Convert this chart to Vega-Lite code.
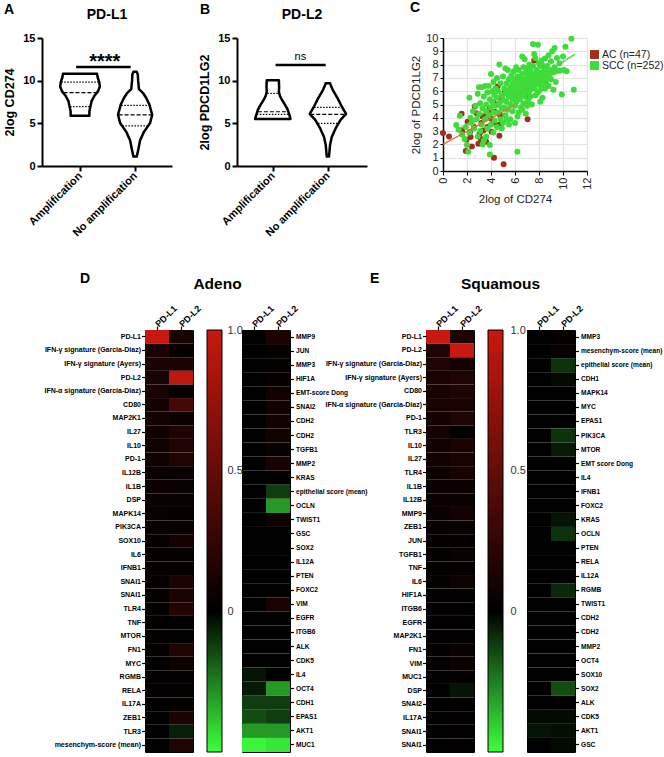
{
"$schema":"https://vega.github.io/schema/vega-lite/v6.json",
"autosize":{"type":"none"},
"padding":{"left":5,"top":38,"right":659,"bottom":719},
"background":"white",
"config":{"font":"Liberation Sans","view":{"stroke":null}},
"datasets":{
"gap":[{"t":""}],
"vA":[
{"g":"amp","y":5.9,"lo":0.83,"hi":1.17},{"g":"amp","y":6.4,"lo":0.83,"hi":1.17},{"g":"amp","y":7.0,"lo":0.81,"hi":1.19},{"g":"amp","y":7.6,"lo":0.79,"hi":1.21},{"g":"amp","y":8.2,"lo":0.74,"hi":1.26},{"g":"amp","y":8.8,"lo":0.67,"hi":1.33},{"g":"amp","y":9.3,"lo":0.64,"hi":1.36},{"g":"amp","y":9.8,"lo":0.65,"hi":1.35},{"g":"amp","y":10.4,"lo":0.68,"hi":1.32},{"g":"amp","y":10.8,"lo":0.69,"hi":1.31},
{"g":"no","y":1.1,"lo":1.97,"hi":2.03},{"g":"no","y":2.0,"lo":1.94,"hi":2.06},{"g":"no","y":3.0,"lo":1.91,"hi":2.09},{"g":"no","y":4.0,"lo":1.84,"hi":2.16},{"g":"no","y":5.0,"lo":1.73,"hi":2.27},{"g":"no","y":6.0,"lo":1.69,"hi":2.31},{"g":"no","y":7.2,"lo":1.74,"hi":2.26},{"g":"no","y":8.0,"lo":1.8,"hi":2.2},{"g":"no","y":8.5,"lo":1.85,"hi":2.15},{"g":"no","y":9.0,"lo":1.93,"hi":2.07},{"g":"no","y":10.0,"lo":1.945,"hi":2.055},{"g":"no","y":10.7,"lo":1.95,"hi":2.05},{"g":"no","y":11.05,"lo":1.97,"hi":2.03}],
"qA":[
{"k":"q","y":9.84,"lo":0.66,"hi":1.34},{"k":"m","y":8.59,"lo":0.7,"hi":1.3},{"k":"q","y":6.95,"lo":0.82,"hi":1.18},
{"k":"q","y":7.1,"lo":1.75,"hi":2.25},{"k":"m","y":6.0,"lo":1.7,"hi":2.3},{"k":"q","y":4.7,"lo":1.77,"hi":2.23}],
"vB":[
{"g":"amp","y":5.5,"lo":0.68,"hi":1.32},{"g":"amp","y":5.8,"lo":0.69,"hi":1.31},{"g":"amp","y":6.2,"lo":0.71,"hi":1.29},{"g":"amp","y":6.6,"lo":0.73,"hi":1.27},{"g":"amp","y":7.2,"lo":0.78,"hi":1.22},{"g":"amp","y":7.7,"lo":0.83,"hi":1.17},{"g":"amp","y":8.2,"lo":0.87,"hi":1.13},{"g":"amp","y":8.7,"lo":0.89,"hi":1.11},{"g":"amp","y":9.3,"lo":0.885,"hi":1.115},{"g":"amp","y":10.05,"lo":0.89,"hi":1.11},
{"g":"no","y":1.1,"lo":1.98,"hi":2.02},{"g":"no","y":2.5,"lo":1.96,"hi":2.04},{"g":"no","y":3.4,"lo":1.93,"hi":2.07},{"g":"no","y":4.4,"lo":1.86,"hi":2.14},{"g":"no","y":5.4,"lo":1.77,"hi":2.23},{"g":"no","y":6.1,"lo":1.67,"hi":2.33},{"g":"no","y":7.0,"lo":1.75,"hi":2.25},{"g":"no","y":7.9,"lo":1.82,"hi":2.18},{"g":"no","y":8.9,"lo":1.91,"hi":2.09},{"g":"no","y":9.5,"lo":1.95,"hi":2.05},{"g":"no","y":9.7,"lo":1.96,"hi":2.04}],
"qB":[
{"k":"q","y":8.5,"lo":0.9,"hi":1.1},{"k":"m","y":6.36,"lo":0.73,"hi":1.27},{"k":"q","y":6.06,"lo":0.71,"hi":1.29},
{"k":"q","y":6.87,"lo":1.75,"hi":2.25},{"k":"m","y":6.05,"lo":1.68,"hi":2.32},{"k":"q","y":5.0,"lo":1.82,"hi":2.18}],
"ac":[{"x":0,"y":2.85},{"x":0.5,"y":2.6},{"x":1.55,"y":4.3},{"x":1.9,"y":1.5},{"x":1.95,"y":2.35},{"x":2.05,"y":3.7},{"x":2.25,"y":2.95},{"x":2.3,"y":2.55},{"x":2.4,"y":1.85},{"x":2.65,"y":4.85},{"x":2.8,"y":4.35},{"x":2.95,"y":2.05},{"x":3.05,"y":2.8},{"x":3.15,"y":2.4},{"x":3.2,"y":3.6},{"x":3.35,"y":3.05},{"x":3.5,"y":4.2},{"x":3.6,"y":2.2},{"x":3.7,"y":3.3},{"x":3.8,"y":4.45},{"x":3.85,"y":4.1},{"x":3.9,"y":4.7},{"x":4.0,"y":3.95},{"x":4.05,"y":2.95},{"x":4.15,"y":5.2},{"x":4.25,"y":1.0},{"x":4.3,"y":4.45},{"x":4.4,"y":6.2},{"x":4.55,"y":6.35},{"x":4.5,"y":5.0},{"x":4.65,"y":3.45},{"x":4.7,"y":2.65},{"x":4.75,"y":4.2},{"x":4.9,"y":5.45},{"x":5.05,"y":0.5},{"x":5.15,"y":5.95},{"x":5.45,"y":5.85},{"x":5.6,"y":5.7},{"x":6.0,"y":5.7},{"x":6.9,"y":5.6},{"x":7.05,"y":3.9},{"x":7.6,"y":8.3},{"x":3.3,"y":4.1},{"x":4.2,"y":3.6},{"x":2.6,"y":3.3},{"x":1.6,"y":3.0},{"x":4.8,"y":3.5}],
"scc":[{"x":1.1,"y":3.45},{"x":1.4,"y":4.15},{"x":1.6,"y":2.75},{"x":1.3,"y":3.1},{"x":1.9,"y":3.3},{"x":2.0,"y":1.95},{"x":2.1,"y":1.45},{"x":1.8,"y":2.4},{"x":2.2,"y":5.5},{"x":2.3,"y":4.0},{"x":2.4,"y":3.6},{"x":2.5,"y":4.5},{"x":2.2,"y":2.9},
{"x":2.6,"y":3.2},{"x":2.7,"y":4.9},{"x":2.8,"y":3.9},{"x":2.9,"y":2.6},{"x":3.0,"y":4.3},{"x":3.0,"y":6.3},{"x":3.1,"y":5.1},{"x":3.2,"y":3.5},{"x":3.2,"y":6.3},{"x":3.3,"y":4.7},{"x":3.4,"y":5.6},{"x":3.4,"y":2.3},{"x":3.5,"y":6.4},{"x":3.5,"y":3.9},{"x":2.9,"y":5.8},{"x":3.1,"y":3.0},{"x":3.3,"y":2.0},
{"x":3.6,"y":4.5},{"x":3.6,"y":5.0},{"x":3.7,"y":5.9},{"x":3.7,"y":3.2},{"x":3.8,"y":6.4},{"x":3.8,"y":4.2},{"x":3.9,"y":1.25},{"x":3.9,"y":1.95},{"x":3.9,"y":5.4},{"x":4.0,"y":4.8},{"x":4.0,"y":7.3},{"x":4.0,"y":3.5},{"x":4.1,"y":6.0},{"x":4.1,"y":5.2},{"x":4.2,"y":4.4},{"x":4.2,"y":6.7},{"x":4.3,"y":3.8},{"x":4.3,"y":5.7},{"x":4.4,"y":6.2},{"x":4.4,"y":4.9},{"x":4.5,"y":3.3},{"x":4.5,"y":7.0},{"x":4.5,"y":5.5},{"x":3.6,"y":2.6},{"x":4.2,"y":2.9},
{"x":4.6,"y":4.4},{"x":4.6,"y":6.0},{"x":4.7,"y":5.1},{"x":4.7,"y":8.0},{"x":4.8,"y":3.9},{"x":4.8,"y":6.6},{"x":4.9,"y":5.7},{"x":4.9,"y":4.7},{"x":5.0,"y":7.1},{"x":5.0,"y":5.3},{"x":5.0,"y":3.6},{"x":5.1,"y":6.2},{"x":5.1,"y":4.8},{"x":5.2,"y":7.7},{"x":5.2,"y":5.8},{"x":5.2,"y":4.2},{"x":5.3,"y":6.6},{"x":5.3,"y":5.2},{"x":5.4,"y":7.6},{"x":5.4,"y":6.0},{"x":5.4,"y":4.6},{"x":5.5,"y":5.6},{"x":5.5,"y":6.9},{"x":5.5,"y":3.5},{"x":4.9,"y":3.2},{"x":5.3,"y":3.9},
{"x":5.6,"y":6.3},{"x":5.6,"y":5.0},{"x":5.7,"y":7.2},{"x":5.7,"y":5.9},{"x":5.8,"y":6.6},{"x":5.8,"y":4.5},{"x":5.8,"y":5.4},{"x":5.9,"y":7.5},{"x":5.9,"y":6.1},{"x":6.0,"y":6.9},{"x":6.0,"y":5.6},{"x":6.0,"y":4.9},{"x":6.1,"y":7.8},{"x":6.1,"y":6.4},{"x":6.1,"y":5.2},{"x":6.2,"y":1.45},{"x":6.2,"y":7.1},{"x":6.2,"y":5.9},{"x":6.3,"y":6.6},{"x":6.3,"y":4.4},{"x":6.3,"y":7.6},{"x":6.4,"y":6.2},{"x":6.4,"y":5.4},{"x":6.4,"y":7.0},{"x":6.5,"y":6.8},{"x":6.5,"y":5.7},{"x":6.5,"y":4.8},{"x":5.6,"y":3.9},{"x":6.0,"y":3.6},{"x":6.2,"y":4.1},
{"x":6.6,"y":7.3},{"x":6.6,"y":6.0},{"x":6.6,"y":8.6},{"x":6.7,"y":6.5},{"x":6.7,"y":5.1},{"x":6.7,"y":7.8},{"x":6.8,"y":8.4},{"x":6.8,"y":6.9},{"x":6.8,"y":5.6},{"x":6.9,"y":7.4},{"x":6.9,"y":6.2},{"x":6.9,"y":4.3},{"x":7.0,"y":7.0},{"x":7.0,"y":5.9},{"x":7.0,"y":6.6},{"x":7.1,"y":7.7},{"x":7.1,"y":5.3},{"x":7.1,"y":6.3},{"x":7.2,"y":7.2},{"x":7.2,"y":6.0},{"x":7.2,"y":8.0},{"x":7.3,"y":6.8},{"x":7.3,"y":5.6},{"x":7.3,"y":7.5},{"x":7.4,"y":6.4},{"x":7.4,"y":7.0},{"x":7.4,"y":5.0},{"x":7.5,"y":9.55},{"x":7.5,"y":6.7},{"x":7.5,"y":7.9},{"x":6.6,"y":4.6},{"x":7.0,"y":4.9},
{"x":7.6,"y":6.2},{"x":7.6,"y":7.3},{"x":7.7,"y":5.7},{"x":7.7,"y":6.9},{"x":7.7,"y":8.5},{"x":7.8,"y":7.6},{"x":7.8,"y":6.5},{"x":7.9,"y":9.5},{"x":7.9,"y":7.1},{"x":7.9,"y":5.9},{"x":8.0,"y":8.1},{"x":8.0,"y":6.7},{"x":8.0,"y":7.4},{"x":8.1,"y":6.1},{"x":8.1,"y":7.9},{"x":8.2,"y":7.0},{"x":8.2,"y":6.4},{"x":8.2,"y":8.3},{"x":8.3,"y":7.95},{"x":8.3,"y":7.3},{"x":8.3,"y":5.5},{"x":8.4,"y":6.8},{"x":8.4,"y":7.6},{"x":8.5,"y":8.45},{"x":8.5,"y":7.1},{"x":8.5,"y":6.2},{"x":7.6,"y":8.8},{"x":8.1,"y":5.2},
{"x":8.6,"y":7.5},{"x":8.6,"y":6.6},{"x":8.7,"y":7.9},{"x":8.7,"y":7.0},{"x":8.8,"y":8.7},{"x":8.8,"y":6.4},{"x":8.9,"y":7.3},{"x":9.0,"y":8.25},{"x":9.0,"y":7.6},{"x":9.0,"y":6.9},{"x":9.1,"y":9.0},{"x":9.2,"y":7.4},{"x":9.3,"y":9.25},{"x":9.3,"y":7.8},{"x":9.4,"y":6.7},{"x":9.5,"y":7.5},{"x":9.5,"y":8.5},{"x":9.2,"y":6.1},
{"x":9.75,"y":7.55},{"x":9.9,"y":5.75},{"x":10.0,"y":8.6},{"x":10.1,"y":7.6},{"x":10.2,"y":9.35},{"x":10.3,"y":7.5},{"x":10.7,"y":9.95},{"x":10.9,"y":6.1},{"x":9.7,"y":8.1}],
"adL":[
{"g":"PD-L1","PD-L1":1.0,"PD-L2":0.12},
{"g":"IFN-γ signature (Garcia-Diaz)","PD-L1":0.13,"PD-L2":0.03},
{"g":"IFN-γ signature (Ayers)","PD-L1":0.13,"PD-L2":0.14},
{"g":"PD-L2","PD-L1":0.12,"PD-L2":0.95},
{"g":"IFN-α signature (Garcia-Diaz)","PD-L1":0.11,"PD-L2":0.03},
{"g":"CD80","PD-L1":0.1,"PD-L2":0.35},
{"g":"MAP2K1","PD-L1":0.09,"PD-L2":0.05},
{"g":"IL27","PD-L1":0.08,"PD-L2":0.15},
{"g":"IL10","PD-L1":0.08,"PD-L2":0.15},
{"g":"PD-1","PD-L1":0.07,"PD-L2":0.16},
{"g":"IL12B","PD-L1":0.06,"PD-L2":0.04},
{"g":"IL1B","PD-L1":0.06,"PD-L2":0.04},
{"g":"DSP","PD-L1":0.05,"PD-L2":0.04},
{"g":"MAPK14","PD-L1":0.04,"PD-L2":0.03},
{"g":"PIK3CA","PD-L1":0.04,"PD-L2":0.03},
{"g":"SOX10","PD-L1":0.03,"PD-L2":0.1},
{"g":"IL6","PD-L1":0.03,"PD-L2":0.03},
{"g":"IFNB1","PD-L1":0.03,"PD-L2":0.02},
{"g":"SNAI1","PD-L1":0.03,"PD-L2":0.13},
{"g":"SNAI1 ","PD-L1":0.03,"PD-L2":0.14},
{"g":"TLR4","PD-L1":0.02,"PD-L2":0.18},
{"g":"TNF","PD-L1":0.02,"PD-L2":0.01},
{"g":"MTOR","PD-L1":0.02,"PD-L2":0.0},
{"g":"FN1","PD-L1":0.02,"PD-L2":0.15},
{"g":"MYC","PD-L1":0.01,"PD-L2":0.07},
{"g":"RGMB","PD-L1":0.01,"PD-L2":0.01},
{"g":"RELA","PD-L1":0.01,"PD-L2":0.02},
{"g":"IL17A","PD-L1":0.01,"PD-L2":0.02},
{"g":"ZEB1","PD-L1":0.0,"PD-L2":0.13},
{"g":"TLR3","PD-L1":0.0,"PD-L2":-0.06},
{"g":"mesenchym-score (mean)","PD-L1":0.0,"PD-L2":0.15}],
"adR":[
{"g":"MMP9","PD-L1":0.0,"PD-L2":0.14},
{"g":"JUN","PD-L1":0.0,"PD-L2":0.02},
{"g":"MMP3","PD-L1":0.0,"PD-L2":0.02},
{"g":"HIF1A","PD-L1":0.0,"PD-L2":0.03},
{"g":"EMT-score Dong","PD-L1":0.0,"PD-L2":0.09},
{"g":"SNAI2","PD-L1":0.0,"PD-L2":0.09},
{"g":"CDH2","PD-L1":0.0,"PD-L2":0.09},
{"g":"CDH2 ","PD-L1":0.0,"PD-L2":0.09},
{"g":"TGFB1","PD-L1":0.0,"PD-L2":0.03},
{"g":"MMP2","PD-L1":0.0,"PD-L2":0.12},
{"g":"KRAS","PD-L1":0.0,"PD-L2":0.01},
{"g":"epithelial score (mean)","PD-L1":0.0,"PD-L2":-0.12},
{"g":"OCLN","PD-L1":0.0,"PD-L2":-0.3},
{"g":"TWIST1","PD-L1":0.0,"PD-L2":0.07},
{"g":"GSC","PD-L1":0.0,"PD-L2":0.0},
{"g":"SOX2","PD-L1":0.0,"PD-L2":0.0},
{"g":"IL12A","PD-L1":0.0,"PD-L2":0.0},
{"g":"PTEN","PD-L1":0.0,"PD-L2":0.0},
{"g":"FOXC2","PD-L1":0.0,"PD-L2":0.0},
{"g":"VIM","PD-L1":0.0,"PD-L2":0.12},
{"g":"EGFR","PD-L1":0.0,"PD-L2":0.0},
{"g":"ITGB6","PD-L1":0.0,"PD-L2":0.0},
{"g":"ALK","PD-L1":0.0,"PD-L2":0.0},
{"g":"CDK5","PD-L1":0.0,"PD-L2":0.0},
{"g":"IL4","PD-L1":-0.04,"PD-L2":0.0},
{"g":"OCT4","PD-L1":-0.05,"PD-L2":-0.3},
{"g":"CDH1","PD-L1":-0.12,"PD-L2":-0.12},
{"g":"EPAS1","PD-L1":-0.15,"PD-L2":-0.12},
{"g":"AKT1","PD-L1":-0.3,"PD-L2":-0.3},
{"g":"MUC1","PD-L1":-0.48,"PD-L2":-0.45}],
"sqL":[
{"g":"PD-L1","PD-L1":1.0,"PD-L2":0.15},
{"g":"PD-L2","PD-L1":0.15,"PD-L2":1.0},
{"g":"IFN-γ signature (Garcia-Diaz)","PD-L1":0.15,"PD-L2":0.1},
{"g":"IFN-γ signature (Ayers)","PD-L1":0.12,"PD-L2":0.15},
{"g":"CD80","PD-L1":0.12,"PD-L2":0.15},
{"g":"IFN-α signature (Garcia-Diaz)","PD-L1":0.12,"PD-L2":0.12},
{"g":"PD-1","PD-L1":0.1,"PD-L2":0.15},
{"g":"TLR3","PD-L1":0.1,"PD-L2":0.0},
{"g":"IL10","PD-L1":0.09,"PD-L2":0.14},
{"g":"IL27","PD-L1":0.08,"PD-L2":0.12},
{"g":"TLR4","PD-L1":0.07,"PD-L2":0.12},
{"g":"IL1B","PD-L1":0.06,"PD-L2":0.05},
{"g":"IL12B","PD-L1":0.05,"PD-L2":0.05},
{"g":"MMP9","PD-L1":0.04,"PD-L2":0.1},
{"g":"ZEB1","PD-L1":0.03,"PD-L2":0.04},
{"g":"JUN","PD-L1":0.03,"PD-L2":0.02},
{"g":"TGFB1","PD-L1":0.02,"PD-L2":0.05},
{"g":"TNF","PD-L1":0.02,"PD-L2":0.03},
{"g":"IL6","PD-L1":0.02,"PD-L2":0.07},
{"g":"HIF1A","PD-L1":0.01,"PD-L2":0.01},
{"g":"ITGB6","PD-L1":0.01,"PD-L2":0.01},
{"g":"EGFR","PD-L1":0.01,"PD-L2":0.01},
{"g":"MAP2K1","PD-L1":0.01,"PD-L2":0.01},
{"g":"FN1","PD-L1":0.01,"PD-L2":0.06},
{"g":"VIM","PD-L1":0.01,"PD-L2":0.07},
{"g":"MUC1","PD-L1":0.0,"PD-L2":0.01},
{"g":"DSP","PD-L1":0.0,"PD-L2":-0.04},
{"g":"SNAI2","PD-L1":0.0,"PD-L2":0.01},
{"g":"IL17A","PD-L1":0.0,"PD-L2":0.01},
{"g":"SNAI1","PD-L1":0.0,"PD-L2":0.01},
{"g":"SNAI1 ","PD-L1":0.0,"PD-L2":0.01}],
"sqR":[
{"g":"MMP3","PD-L1":0.0,"PD-L2":0.02},
{"g":"mesenchym-score (mean)","PD-L1":0.0,"PD-L2":0.04},
{"g":"epithelial score (mean)","PD-L1":0.0,"PD-L2":-0.1},
{"g":"CDH1","PD-L1":0.0,"PD-L2":-0.02},
{"g":"MAPK14","PD-L1":0.0,"PD-L2":0.0},
{"g":"MYC","PD-L1":0.0,"PD-L2":0.0},
{"g":"EPAS1","PD-L1":0.0,"PD-L2":0.0},
{"g":"PIK3CA","PD-L1":0.0,"PD-L2":-0.1},
{"g":"MTOR","PD-L1":0.0,"PD-L2":-0.05},
{"g":"EMT score Dong","PD-L1":0.0,"PD-L2":0.0},
{"g":"IL4","PD-L1":0.0,"PD-L2":0.0},
{"g":"IFNB1","PD-L1":0.0,"PD-L2":0.0},
{"g":"FOXC2","PD-L1":0.0,"PD-L2":0.0},
{"g":"KRAS","PD-L1":0.0,"PD-L2":-0.04},
{"g":"OCLN","PD-L1":0.0,"PD-L2":-0.1},
{"g":"PTEN","PD-L1":0.0,"PD-L2":0.0},
{"g":"RELA","PD-L1":0.0,"PD-L2":0.0},
{"g":"IL12A","PD-L1":0.0,"PD-L2":0.0},
{"g":"RGMB","PD-L1":0.0,"PD-L2":-0.08},
{"g":"TWIST1","PD-L1":0.0,"PD-L2":0.0},
{"g":"CDH2","PD-L1":0.0,"PD-L2":0.0},
{"g":"CDH2 ","PD-L1":0.0,"PD-L2":0.0},
{"g":"MMP2","PD-L1":0.0,"PD-L2":0.0},
{"g":"OCT4","PD-L1":0.0,"PD-L2":0.0},
{"g":"SOX10","PD-L1":0.0,"PD-L2":0.0},
{"g":"SOX2","PD-L1":0.0,"PD-L2":-0.15},
{"g":"ALK","PD-L1":0.0,"PD-L2":0.0},
{"g":"CDK5","PD-L1":-0.02,"PD-L2":-0.02},
{"g":"AKT1","PD-L1":-0.04,"PD-L2":-0.03},
{"g":"GSC","PD-L1":0.0,"PD-L2":-0.02}]
},
"spacing":32,
"vconcat":[
{"bounds":"flush","spacing":0,"hconcat":[
{"width":37,"height":1,"title":{"text":"A","anchor":"start","frame":"group","fontSize":14,"fontWeight":"bold","offset":16,"dx":-1},"data":{"name":"gap"},"mark":"text","encoding":{"text":{"field":"t"}}},
{"width":130,"height":128,"title":{"text":"PD-L1","fontSize":14,"fontWeight":"bold","frame":"group","anchor":"middle","offset":10},
 "layer":[
  {"data":{"name":"vA"},"mark":{"type":"area","orient":"horizontal","fill":"white","stroke":"black","strokeWidth":2.5,"strokeJoin":"round"},
   "encoding":{"y":{"field":"y","type":"quantitative","scale":{"domain":[0,15],"nice":false},"axis":{"values":[0,5,10,15],"title":"2log CD274","titleFontSize":12.5,"titleFontWeight":"bold","titleColor":"black","titlePadding":6,"labelFontSize":11,"labelFontWeight":"bold","labelColor":"black","tickSize":5,"tickWidth":2,"tickColor":"black","domainWidth":2,"domainColor":"black","grid":false}},
    "x":{"field":"lo","type":"quantitative","scale":{"domain":[0.31,2.67],"nice":false,"zero":false},"axis":{"values":[1,2],"labelExpr":"datum.value==1?'Amplification':'No amplification'","labelAngle":-45,"labelAlign":"right","labelBaseline":"middle","title":null,"labelFontSize":11,"labelFontWeight":"bold","labelColor":"black","tickSize":5,"tickWidth":2,"tickColor":"black","domainWidth":2,"domainColor":"black","grid":false,"labelPadding":3}},
    "x2":{"field":"hi"},"detail":{"field":"g"}}},
  {"data":{"name":"qA"},"mark":{"type":"rule","strokeWidth":1.2,"color":"black"},"encoding":{"y":{"field":"y","type":"quantitative"},"x":{"field":"lo","type":"quantitative"},"x2":{"field":"hi"},"strokeDash":{"field":"k","type":"nominal","scale":{"domain":["m","q"],"range":[[4,2],[1.5,1.5]]},"legend":null}}},
  {"data":{"values":[{"x":0.93,"x2":1.92,"y":11.6}]},"mark":{"type":"rule","strokeWidth":2.5,"color":"black"},"encoding":{"y":{"field":"y","type":"quantitative"},"x":{"field":"x","type":"quantitative"},"x2":{"field":"x2"}}},
  {"data":{"values":[{"x":1.45,"y":11.5,"t":"****"}]},"mark":{"type":"text","fontSize":20,"fontWeight":"bold","baseline":"alphabetic","color":"black"},"encoding":{"y":{"field":"y","type":"quantitative"},"x":{"field":"x","type":"quantitative"},"text":{"field":"t"}}}
 ]},
{"width":65,"height":1,"title":{"text":"B","anchor":"start","frame":"group","fontSize":14,"fontWeight":"bold","offset":16,"dx":28},"data":{"name":"gap"},"mark":"text","encoding":{"text":{"field":"t"}}},
{"width":130,"height":128,"title":{"text":"PD-L2","fontSize":14,"fontWeight":"bold","frame":"group","anchor":"middle","offset":10},
 "layer":[
  {"data":{"name":"vB"},"mark":{"type":"area","orient":"horizontal","fill":"white","stroke":"black","strokeWidth":2.5,"strokeJoin":"round"},
   "encoding":{"y":{"field":"y","type":"quantitative","scale":{"domain":[0,15],"nice":false},"axis":{"values":[0,5,10,15],"title":"2log PDCD1LG2","titleFontSize":12.5,"titleFontWeight":"bold","titleColor":"black","titlePadding":6,"labelFontSize":11,"labelFontWeight":"bold","labelColor":"black","tickSize":5,"tickWidth":2,"tickColor":"black","domainWidth":2,"domainColor":"black","grid":false}},
    "x":{"field":"lo","type":"quantitative","scale":{"domain":[0.35,2.71],"nice":false,"zero":false},"axis":{"values":[1,2],"labelExpr":"datum.value==1?'Amplification':'No amplification'","labelAngle":-45,"labelAlign":"right","labelBaseline":"middle","title":null,"labelFontSize":11,"labelFontWeight":"bold","labelColor":"black","tickSize":5,"tickWidth":2,"tickColor":"black","domainWidth":2,"domainColor":"black","grid":false,"labelPadding":3}},
    "x2":{"field":"hi"},"detail":{"field":"g"}}},
  {"data":{"name":"qB"},"mark":{"type":"rule","strokeWidth":1.2,"color":"black"},"encoding":{"y":{"field":"y","type":"quantitative"},"x":{"field":"lo","type":"quantitative"},"x2":{"field":"hi"},"strokeDash":{"field":"k","type":"nominal","scale":{"domain":["m","q"],"range":[[4,2],[1.5,1.5]]},"legend":null}}},
  {"data":{"values":[{"x":1.05,"x2":1.96,"y":11.83}]},"mark":{"type":"rule","strokeWidth":2.5,"color":"black"},"encoding":{"y":{"field":"y","type":"quantitative"},"x":{"field":"x","type":"quantitative"},"x2":{"field":"x2"}}},
  {"data":{"values":[{"x":1.5,"y":12.45,"t":"ns"}]},"mark":{"type":"text","fontSize":11,"baseline":"alphabetic","color":"black"},"encoding":{"y":{"field":"y","type":"quantitative"},"x":{"field":"x","type":"quantitative"},"text":{"field":"t"}}}
 ]},
{"width":76,"height":1,"title":{"text":"C","anchor":"start","frame":"group","fontSize":14,"fontWeight":"bold","offset":18,"dx":43},"data":{"name":"gap"},"mark":"text","encoding":{"text":{"field":"t"}}},
{"width":144,"height":133,
 "encoding":{
  "x":{"field":"x","type":"quantitative","scale":{"domain":[0,12],"nice":false},"axis":{"values":[0,2,4,6,8,10,12],"tickCount":7,"labelOverlap":false,"labelAngle":-90,"labelAlign":"right","labelBaseline":"middle","title":"2log of CD274","titleFontSize":11.5,"titleFontWeight":"normal","titleColor":"#222","titlePadding":4,"labelFontSize":11,"labelColor":"#222","grid":true,"gridColor":"#e2e2e2","tickSize":4,"tickColor":"black","domainColor":"black","domainWidth":1.5}},
  "y":{"field":"y","type":"quantitative","scale":{"domain":[0,10],"nice":false},"axis":{"values":[0,1,2,3,4,5,6,7,8,9,10],"tickCount":11,"labelOverlap":false,"title":"2log of PDCD1LG2","titleFontSize":11.5,"titleFontWeight":"normal","titleColor":"#222","titlePadding":4,"labelFontSize":11,"labelColor":"#222","labelPadding":2,"grid":true,"gridColor":"#e2e2e2","tickSize":3,"tickColor":"black","domainColor":"black","domainWidth":1.5}}},
 "layer":[
  {"data":{"name":"ac"},"mark":{"type":"circle","size":36,"opacity":1},"encoding":{
   "color":{"datum":"AC (n=47)","type":"nominal","scale":{"domain":["AC (n=47)","SCC (n=252)"],"range":["#a52d1c","#3ddc3a"]},"legend":{"orient":"none","legendX":584,"legendY":11,"title":null,"symbolType":"square","symbolSize":80,"labelFontSize":10.5,"labelColor":"#222","rowPadding":0,"labelOffset":2}}}},
  {"data":{"name":"scc"},"mark":{"type":"circle","size":36,"opacity":1},"encoding":{"color":{"datum":"SCC (n=252)","type":"nominal"}}},
  {"data":{"values":[{"x":0,"y":2.0,"x2":6.0,"y2":4.94}]},"mark":{"type":"rule","color":"#e0703f","strokeWidth":1.3},"encoding":{"x2":{"field":"x2"},"y2":{"field":"y2"}}},
  {"data":{"values":[{"x":1.08,"y":3.0,"x2":11.0,"y2":8.79}]},"mark":{"type":"rule","color":"#4fd24a","strokeWidth":1.3},"encoding":{"x2":{"field":"x2"},"y2":{"field":"y2"}}}
 ]}
]},
{"bounds":"flush","spacing":0,"hconcat":[
{"width":140,"height":1,"title":{"text":"D","anchor":"start","frame":"group","fontSize":14,"fontWeight":"bold","offset":39,"dx":75},"data":{"name":"gap"},"mark":"text","encoding":{"text":{"field":"t"}}},
{"width":48,"height":422,"view":{"stroke":"black","strokeWidth":1},"data":{"name":"adL"},"transform":[{"fold":["PD-L1","PD-L2"],"as":["col","v"]}],"mark":"rect",
 "encoding":{"x":{"field":"col","type":"nominal","sort":["PD-L1","PD-L2"],"scale":{"paddingInner":0,"paddingOuter":0},"axis":{"orient":"top","title":null,"labelAngle":-45,"labelAlign":"left","labelBaseline":"middle","labelFontSize":9,"labelFontWeight":"bold","labelColor":"black","tickSize":4,"tickWidth":1.2,"tickColor":"black","domain":false,"labelPadding":1}},
  "y":{"field":"g","type":"nominal","sort":null,"scale":{"paddingInner":0,"paddingOuter":0},"axis":{"title":null,"labelExpr":"trim(datum.label)","labelFontSize":7,"labelFontWeight":"bold","labelColor":"black","tickSize":3.5,"tickWidth":1.2,"tickColor":"black","domain":false,"labelPadding":1}},
  "color":{"field":"v","type":"quantitative","scale":{"domain":[-0.5,0,1],"range":["#3dff3d","#000000","#c8180f"],"interpolate":"rgb"},"legend":null}}},
{"width":14,"height":1,"data":{"name":"gap"},"mark":"text","encoding":{"text":{"field":"t"}}},
{"width":15,"height":422,"title":{"text":"Adeno","fontSize":15.5,"fontWeight":"bold","frame":"group","anchor":"middle","offset":32,"dx":3},"data":{"values":[{"lo":-0.5,"hi":1}]},"mark":{"type":"rect","fill":{"gradient":"linear","x1":0,"y1":1,"x2":0,"y2":0,"stops":[{"offset":0,"color":"#3dff3d"},{"offset":0.3333,"color":"#000000"},{"offset":1,"color":"#c8180f"}]},"stroke":"black","strokeWidth":1},
 "encoding":{"y":{"field":"lo","type":"quantitative","scale":{"domain":[-0.5,1],"nice":false,"zero":false},"axis":{"orient":"right","values":[0,0.5,1],"labelExpr":"datum.value==0?'0':format(datum.value,'.1f')","ticks":false,"domain":false,"grid":false,"title":null,"labelFontSize":11,"labelColor":"#333","labelPadding":5}},"y2":{"field":"hi"}}},
{"width":20,"height":1,"data":{"name":"gap"},"mark":"text","encoding":{"text":{"field":"t"}}},
{"width":48,"height":422,"view":{"stroke":"black","strokeWidth":1},"data":{"name":"adR"},"transform":[{"fold":["PD-L1","PD-L2"],"as":["col","v"]}],"mark":"rect",
 "encoding":{"x":{"field":"col","type":"nominal","sort":["PD-L1","PD-L2"],"scale":{"paddingInner":0,"paddingOuter":0},"axis":{"orient":"top","title":null,"labelAngle":-45,"labelAlign":"left","labelBaseline":"middle","labelFontSize":9,"labelFontWeight":"bold","labelColor":"black","tickSize":4,"tickWidth":1.2,"tickColor":"black","domain":false,"labelPadding":1}},
  "y":{"field":"g","type":"nominal","sort":null,"scale":{"paddingInner":0,"paddingOuter":0},"axis":{"orient":"right","title":null,"labelExpr":"trim(datum.label)","labelFontSize":6.6,"labelFontWeight":"bold","labelColor":"black","tickSize":3.5,"tickWidth":1.2,"tickColor":"black","domain":false,"labelPadding":2}},
  "color":{"field":"v","type":"quantitative","scale":{"domain":[-0.5,0,1],"range":["#3dff3d","#000000","#c8180f"],"interpolate":"rgb"},"legend":null}}},
{"width":136,"height":1,"title":{"text":"E","anchor":"start","frame":"group","fontSize":14,"fontWeight":"bold","offset":39,"dx":80},"data":{"name":"gap"},"mark":"text","encoding":{"text":{"field":"t"}}},
{"width":48,"height":422,"view":{"stroke":"black","strokeWidth":1},"data":{"name":"sqL"},"transform":[{"fold":["PD-L1","PD-L2"],"as":["col","v"]}],"mark":"rect",
 "encoding":{"x":{"field":"col","type":"nominal","sort":["PD-L1","PD-L2"],"scale":{"paddingInner":0,"paddingOuter":0},"axis":{"orient":"top","title":null,"labelAngle":-45,"labelAlign":"left","labelBaseline":"middle","labelFontSize":9,"labelFontWeight":"bold","labelColor":"black","tickSize":4,"tickWidth":1.2,"tickColor":"black","domain":false,"labelPadding":1}},
  "y":{"field":"g","type":"nominal","sort":null,"scale":{"paddingInner":0,"paddingOuter":0},"axis":{"title":null,"labelExpr":"trim(datum.label)","labelFontSize":7,"labelFontWeight":"bold","labelColor":"black","tickSize":3.5,"tickWidth":1.2,"tickColor":"black","domain":false,"labelPadding":1}},
  "color":{"field":"v","type":"quantitative","scale":{"domain":[-0.5,0,1],"range":["#3dff3d","#000000","#c8180f"],"interpolate":"rgb"},"legend":null}}},
{"width":14,"height":1,"data":{"name":"gap"},"mark":"text","encoding":{"text":{"field":"t"}}},
{"width":15,"height":422,"title":{"text":"Squamous","fontSize":15.5,"fontWeight":"bold","frame":"group","anchor":"middle","offset":32,"dx":5},"data":{"values":[{"lo":-0.5,"hi":1}]},"mark":{"type":"rect","fill":{"gradient":"linear","x1":0,"y1":1,"x2":0,"y2":0,"stops":[{"offset":0,"color":"#3dff3d"},{"offset":0.3333,"color":"#000000"},{"offset":1,"color":"#c8180f"}]},"stroke":"black","strokeWidth":1},
 "encoding":{"y":{"field":"lo","type":"quantitative","scale":{"domain":[-0.5,1],"nice":false,"zero":false},"axis":{"orient":"right","values":[0,0.5,1],"labelExpr":"datum.value==0?'0':format(datum.value,'.1f')","ticks":false,"domain":false,"grid":false,"title":null,"labelFontSize":11,"labelColor":"#333","labelPadding":7}},"y2":{"field":"hi"}}},
{"width":24,"height":1,"data":{"name":"gap"},"mark":"text","encoding":{"text":{"field":"t"}}},
{"width":48,"height":422,"view":{"stroke":"black","strokeWidth":1},"data":{"name":"sqR"},"transform":[{"fold":["PD-L1","PD-L2"],"as":["col","v"]}],"mark":"rect",
 "encoding":{"x":{"field":"col","type":"nominal","sort":["PD-L1","PD-L2"],"scale":{"paddingInner":0,"paddingOuter":0},"axis":{"orient":"top","title":null,"labelAngle":-45,"labelAlign":"left","labelBaseline":"middle","labelFontSize":9,"labelFontWeight":"bold","labelColor":"black","tickSize":4,"tickWidth":1.2,"tickColor":"black","domain":false,"labelPadding":1}},
  "y":{"field":"g","type":"nominal","sort":null,"scale":{"paddingInner":0,"paddingOuter":0},"axis":{"orient":"right","title":null,"labelExpr":"trim(datum.label)","labelFontSize":6.6,"labelFontWeight":"bold","labelColor":"black","tickSize":3.5,"tickWidth":1.2,"tickColor":"black","domain":false,"labelPadding":2}},
  "color":{"field":"v","type":"quantitative","scale":{"domain":[-0.5,0,1],"range":["#3dff3d","#000000","#c8180f"],"interpolate":"rgb"},"legend":null}}}
]}
]
}
